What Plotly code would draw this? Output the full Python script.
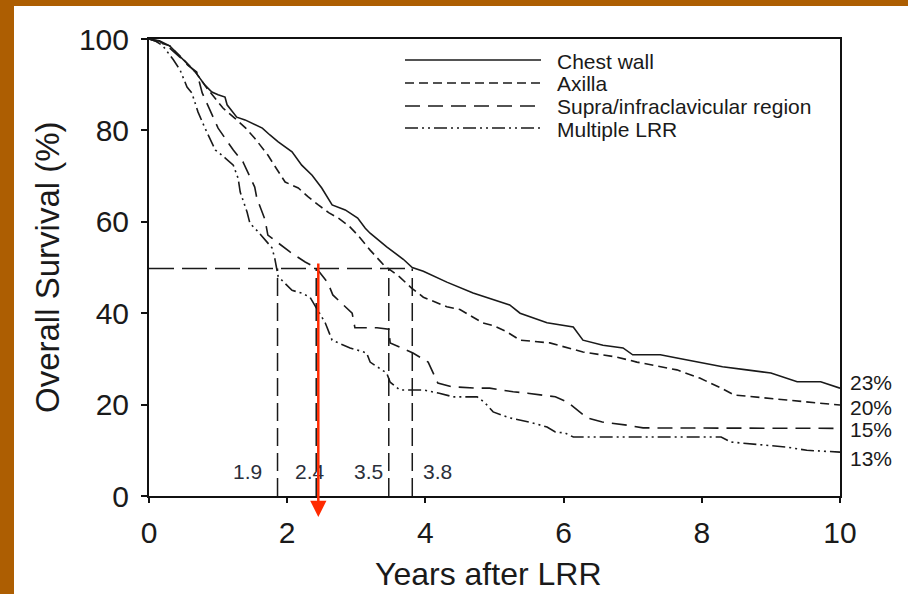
import plotly.graph_objects as go

# ---------------- data ----------------
chest_x = [0, 0.15, 0.3, 0.52, 0.67, 0.81, 0.91, 1.0, 1.1, 1.13, 1.27, 1.39, 1.5, 1.64, 1.75, 1.87, 2.07, 2.21, 2.36, 2.5,
           2.65, 2.84, 3.02, 3.13, 3.2, 3.44, 3.68, 3.81, 3.97, 4.31, 4.69, 5.08, 5.22, 5.37, 5.56, 5.76, 6.14, 6.28, 6.57, 6.86,
           7.0, 7.4, 7.64, 7.97, 8.3, 8.65, 9.0, 9.38, 9.72, 10.0]
chest_y = [100, 99.6, 98.5, 95, 92.8, 89.9, 88.4, 87.8, 87.3, 85.6, 82.9, 82.3, 81.5, 80.5, 79, 77.5, 75.3, 72.4, 70.2, 67.4,
           63.7, 62.6, 60.8, 58.6, 57.5, 54.5, 51.8, 50.0, 49.2, 46.8, 44.4, 42.5, 41.8, 40, 38.9, 37.9, 37, 34.1, 33, 32.4,
           30.9, 30.9, 30.2, 29.3, 28.3, 27.6, 26.9, 25, 25, 23.6]

axilla_x = [0, 0.3, 0.5, 0.67, 0.85, 1.07, 1.24, 1.4, 1.53, 1.72, 1.85, 1.97, 2.16, 2.3, 2.45, 2.6, 2.74, 2.9, 3.02, 3.2,
            3.4, 3.63, 3.8, 3.97, 4.31, 4.5, 4.83, 5.0, 5.18, 5.37, 5.8, 6.28, 6.77, 7.06, 7.64, 7.97, 8.28, 8.47, 9.23, 10]
axilla_y = [100, 98.5, 95.5, 92.8, 89, 84.9, 82.7, 80.5, 78.3, 74.6, 71.5, 68.7, 67.4, 65.5, 63.7, 62, 60.8, 59, 57.1, 53.8,
            50.5, 47.9, 45.5, 43.5, 41.4, 40.8, 37.9, 37.2, 35.9, 34.1, 33.5, 31.5, 30.4, 29.3, 27.6, 25.8, 23.6, 22.1, 21, 19.9]

supra_x = [0, 0.15, 0.3, 0.45, 0.56, 0.69, 0.77, 0.93, 1.0, 1.22, 1.36, 1.53, 1.56, 1.68, 1.72, 2.04, 2.26, 2.42, 2.59, 2.66,
           2.94, 2.98, 3.3, 3.47, 3.49, 3.82, 4.04, 4.18, 4.38, 4.75, 4.93, 5.27, 5.48, 5.88, 6.05, 6.34, 6.56, 6.92, 7.15, 10]
supra_y = [100, 99.5, 98, 96, 94.3, 92.8, 88.2, 82.9, 80.5, 75.7, 73.1, 67.6, 65.2, 60.4, 57.1, 53.4, 51.2, 49.9, 46.6, 44,
           40, 36.8, 36.8, 36.5, 33.5, 31.3, 29.3, 24.7, 23.9, 23.6, 23.6, 22.8, 22.5, 21.7, 20.6, 17.1, 16.2, 15.5, 14.9, 14.8]

multi_x = [0, 0.1, 0.2, 0.35, 0.45, 0.55, 0.62, 0.71, 0.81, 0.91, 0.96, 1.1, 1.22, 1.29, 1.32, 1.42, 1.46, 1.58, 1.78, 1.82,
           1.87, 2.07, 2.21, 2.33, 2.47, 2.55, 2.65, 2.91, 3.0, 3.15, 3.2, 3.44, 3.49, 3.63, 3.97, 4.2, 4.4, 4.75, 4.86, 4.98,
           5.22, 5.5, 5.76, 5.88, 6.02, 6.14, 6.43, 8.28, 8.42, 9.23, 9.52, 10]
multi_y = [100, 99.5, 98.5, 95.5, 93.2, 89.5, 88.2, 84, 80.5, 77.2, 75.7, 74, 72.4, 69.5, 66.5, 62.1, 59.7, 57.8, 54.3, 52,
           48, 45, 44.4, 43.5, 40, 37.9, 34.1, 32.4, 32, 31.3, 29.3, 26.9, 24.9, 23.2, 23.2, 22.5, 21.7, 21.7, 20.4, 18.4,
           17.1, 16.2, 15.1, 14, 13.8, 12.9, 12.9, 12.9, 11.8, 10.7, 10, 9.6]

series_names = ["Chest wall", "Axilla", "Supra/infraclavicular region", "Multiple LRR"]
end_labels = ["23%", "20%", "15%", "13%"]
end_label_y = [24.8, 19.3, 14.5, 8.1]

median_x = [1.86, 2.42, 3.47, 3.81]
median_labels = ["1.9", "2.4", "3.5", "3.8"]
median_label_x = [1.42, 2.33, 3.17, 4.17]
median_level = 49.8

arrow_x = 2.45
arrow_top = 51.2
arrow_tip = -4.6

x_ticks = [0, 2, 4, 6, 8, 10]
y_ticks = [0, 20, 40, 60, 80, 100]

# ---------------- layout geometry ----------------
W, H = 908, 594
L, R, T, B = 149, 840, 39, 496


def px(p):
    return (p - L) / (R - L)


def py(p):
    return (B - p) / (B - T)


dashes = ["solid", "9px,5px", "15px,8px", "13px,4px,2px,4px,2px,4px"]
INK = "#1a1a1a"
FONT = "Liberation Sans, Arial, sans-serif"

fig = go.Figure()
for xs, ys, name, d in zip([chest_x, axilla_x, supra_x, multi_x],
                           [chest_y, axilla_y, supra_y, multi_y], series_names, dashes):
    fig.add_trace(go.Scatter(x=xs, y=ys, mode="lines", name=name,
                             line=dict(color=INK, width=1.6, dash=d), showlegend=False))

shapes = []
# white slide panel
shapes.append(dict(type="rect", xref="paper", yref="paper", x0=px(14), x1=px(W), y0=py(H), y1=py(6),
                   fillcolor="white", line=dict(width=0), layer="below"))
# median reference lines
shapes.append(dict(type="line", xref="x", yref="y", x0=0, x1=max(median_x), y0=median_level, y1=median_level,
                   line=dict(color=INK, width=1.5, dash="25px,8px")))
for mx in median_x:
    shapes.append(dict(type="line", xref="x", yref="y", x0=mx, x1=mx, y0=0, y1=median_level,
                       line=dict(color=INK, width=1.5, dash="18px,7px")))
# legend samples
leg_rows = [60, 83, 106, 128]
for yy, d in zip(leg_rows, dashes):
    shapes.append(dict(type="line", xref="paper", yref="paper", x0=px(405), x1=px(541), y0=py(yy), y1=py(yy),
                       line=dict(color=INK, width=1.5, dash=d)))

annotations = []
for yy, name in zip(leg_rows, series_names):
    annotations.append(dict(xref="paper", yref="paper", x=px(555), y=py(yy + 1), text=name, showarrow=False,
                            xanchor="left", yanchor="middle", font=dict(family=FONT, size=21, color=INK)))
for lab, ly in zip(end_labels, end_label_y):
    annotations.append(dict(xref="paper", yref="y", x=px(848), y=ly, text=lab, showarrow=False,
                            xanchor="left", yanchor="middle", font=dict(family=FONT, size=21, color=INK)))
for lab, lx in zip(median_labels, median_label_x):
    annotations.append(dict(xref="x", yref="y", x=lx, y=5.3, text=lab, showarrow=False,
                            xanchor="center", yanchor="middle", font=dict(family=FONT, size=21, color="#2a2f3a")))
# red arrow
annotations.append(dict(xref="x", yref="y", x=arrow_x, y=arrow_tip, ax=arrow_x, ay=arrow_top,
                        axref="x", ayref="y", text="", showarrow=True, arrowhead=2, arrowsize=1.3,
                        arrowwidth=2.5, arrowcolor="#ff2a00", standoff=0, startstandoff=0))
# axis titles
annotations.append(dict(xref="paper", yref="paper", x=px(47), y=py(267), text="Overall Survival (%)",
                        textangle=-90, showarrow=False, xanchor="center", yanchor="middle",
                        font=dict(family=FONT, size=33, color=INK)))
annotations.append(dict(xref="paper", yref="paper", x=px(488), y=py(574), text="Years after LRR",
                        showarrow=False, xanchor="center", yanchor="middle",
                        font=dict(family=FONT, size=32, color=INK)))

fig.update_layout(
    width=W, height=H, autosize=False,
    margin=dict(l=L, r=W - R, t=T, b=H - B, pad=0),
    paper_bgcolor="#ad5e02", plot_bgcolor="white",
    shapes=shapes, annotations=annotations, showlegend=False,
    font=dict(family=FONT, color=INK),
)
fig.update_xaxes(range=[0, 10], tickvals=x_ticks, ticktext=[str(v) for v in x_ticks],
                 showgrid=False, zeroline=False, showline=True, linecolor="#111", linewidth=2, mirror=True,
                 ticks="outside", ticklen=5, tickwidth=2, tickcolor="#111",
                 tickfont=dict(family=FONT, size=30, color=INK), ticklabelstandoff=4)
fig.update_yaxes(range=[0, 100], tickvals=y_ticks, ticktext=[str(v) for v in y_ticks],
                 showgrid=False, zeroline=False, showline=True, linecolor="#111", linewidth=2, mirror=True,
                 ticks="outside", ticklen=6, tickwidth=2, tickcolor="#111",
                 tickfont=dict(family=FONT, size=30, color=INK), ticklabelstandoff=6)

fig.write_html("out.html")
